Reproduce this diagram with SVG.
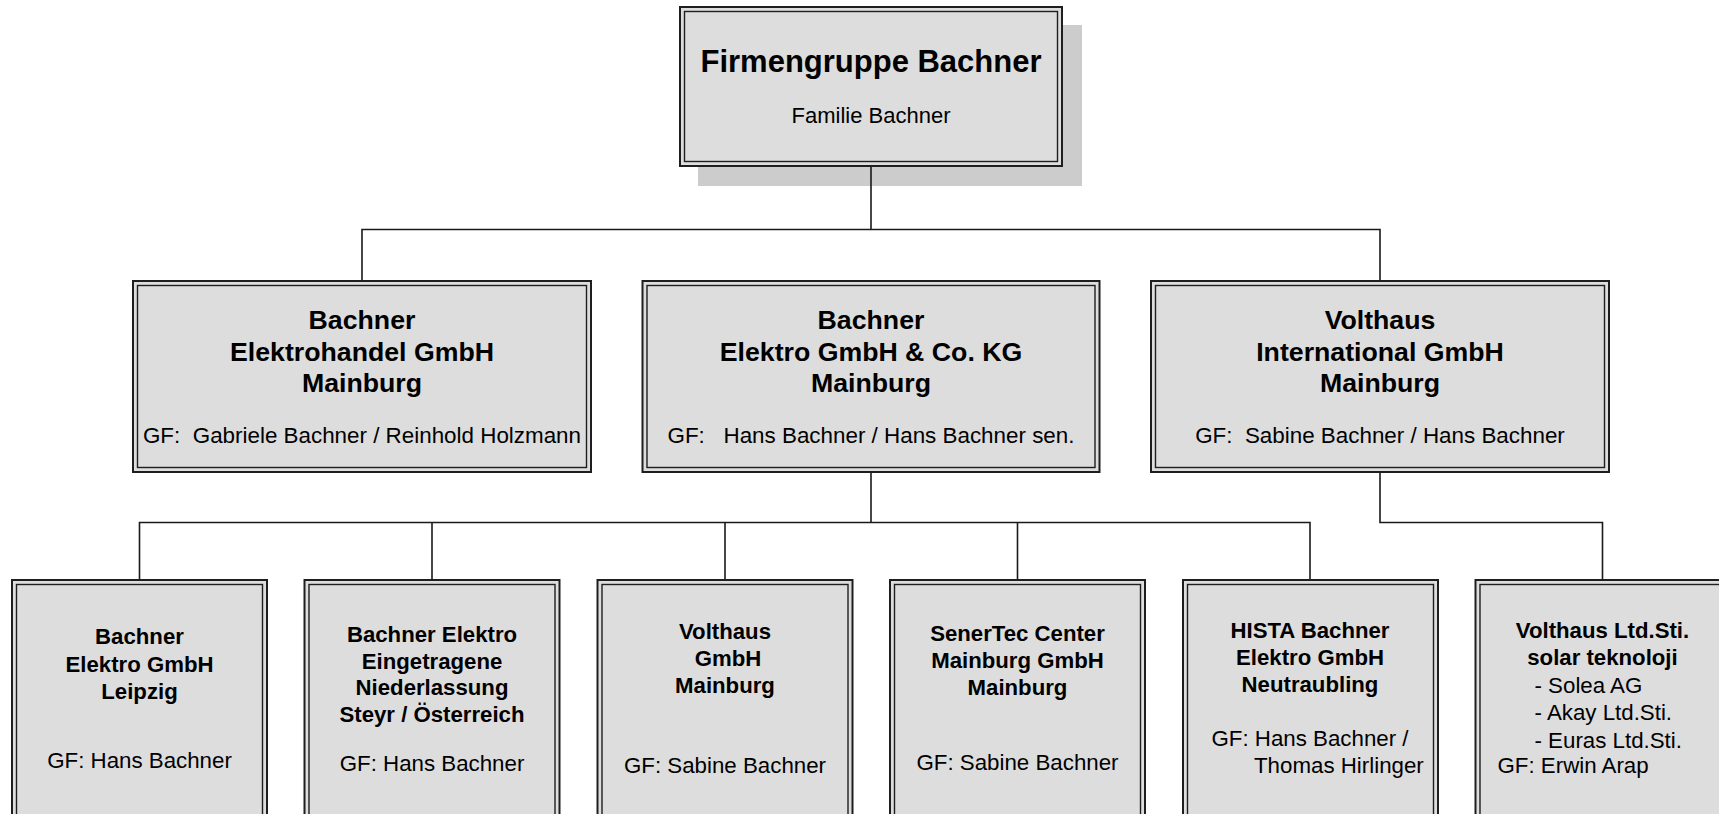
<svg xmlns="http://www.w3.org/2000/svg" width="1719" height="814" viewBox="0 0 1719 814">
<style>
.o{fill:#dddddd;stroke:#1e1e1e;stroke-width:2}
.i{fill:none;stroke:#1e1e1e;stroke-width:1.4}
.sh{fill:#cccccc}
text{font-family:"Liberation Sans",Arial,sans-serif;fill:#000}
.c{text-anchor:middle}
.t{font-weight:bold;font-size:31px}
.b2{font-weight:bold;font-size:26.7px}
.r2{font-size:22.4px}
.b3{font-weight:bold;font-size:22.2px}
.r3{font-size:22.3px}
.ln{fill:none;stroke:#1a1a1a;stroke-width:1.6}
</style>
<rect width="1719" height="814" fill="#ffffff"/>
<g id="n-top">
<rect class="sh" x="698" y="25" width="384" height="161"/>
<rect class="o" x="680" y="7" width="382" height="159"/>
<rect class="i" x="684.5" y="11.5" width="373" height="150"/>
<text class="c t" x="871" y="72">Firmengruppe Bachner</text>
<text class="c" x="871" y="123" font-size="22">Familie Bachner</text>
</g>
<g id="n-elektrohandel">
<rect class="o" x="133" y="281" width="458" height="191"/>
<rect class="i" x="137.5" y="285.5" width="449" height="182"/>
<text class="c b2" x="362" y="329">Bachner</text>
<text class="c b2" x="362" y="360.5">Elektrohandel GmbH</text>
<text class="c b2" x="362" y="392">Mainburg</text>
<text class="c r2" x="362" y="443">GF:&#160; Gabriele Bachner / Reinhold Holzmann</text>
</g>
<g id="n-elektro-kg">
<rect class="o" x="642.5" y="281" width="457" height="191"/>
<rect class="i" x="647" y="285.5" width="448" height="182"/>
<text class="c b2" x="871" y="329">Bachner</text>
<text class="c b2" x="871" y="360.5">Elektro GmbH &amp; Co. KG</text>
<text class="c b2" x="871" y="392">Mainburg</text>
<text class="c r2" x="871" y="443">GF:&#160;&#160; Hans Bachner / Hans Bachner sen.</text>
</g>
<g id="n-volthaus-intl">
<rect class="o" x="1151" y="281" width="458" height="191"/>
<rect class="i" x="1155.5" y="285.5" width="449" height="182"/>
<text class="c b2" x="1380" y="329">Volthaus</text>
<text class="c b2" x="1380" y="360.5">International GmbH</text>
<text class="c b2" x="1380" y="392">Mainburg</text>
<text class="c r2" x="1380" y="443">GF:&#160; Sabine Bachner / Hans Bachner</text>
</g>
<g id="n-leipzig">
<rect class="o" x="12" y="580" width="255" height="250"/>
<rect class="i" x="16.5" y="584.5" width="246" height="250"/>
<text class="c b3" x="139.5" y="644">Bachner</text>
<text class="c b3" x="139.5" y="671.5">Elektro GmbH</text>
<text class="c b3" x="139.5" y="698.5">Leipzig</text>
<text class="c r3" x="139.5" y="767.5">GF: Hans Bachner</text>
</g>
<g id="n-steyr">
<rect class="o" x="304.5" y="580" width="255" height="250"/>
<rect class="i" x="309" y="584.5" width="246" height="250"/>
<text class="c b3" x="432" y="641.5">Bachner Elektro</text>
<text class="c b3" x="432" y="668.5">Eingetragene</text>
<text class="c b3" x="432" y="695">Niederlassung</text>
<text class="c b3" x="432" y="721.5">Steyr / Österreich</text>
<text class="c r3" x="432" y="770.5">GF: Hans Bachner</text>
</g>
<g id="n-volthaus-gmbh">
<rect class="o" x="597.5" y="580" width="255" height="250"/>
<rect class="i" x="602" y="584.5" width="246" height="250"/>
<text class="c b3" x="725" y="638.5">Volthaus</text>
<text class="c b3" x="728" y="665.5">GmbH</text>
<text class="c b3" x="725" y="692.5">Mainburg</text>
<text class="c r3" x="725" y="773">GF: Sabine Bachner</text>
</g>
<g id="n-senertec">
<rect class="o" x="890" y="580" width="255" height="250"/>
<rect class="i" x="894.5" y="584.5" width="246" height="250"/>
<text class="c b3" x="1017.5" y="641">SenerTec Center</text>
<text class="c b3" x="1017.5" y="667.5">Mainburg GmbH</text>
<text class="c b3" x="1017.5" y="694.5">Mainburg</text>
<text class="c r3" x="1017.5" y="770">GF: Sabine Bachner</text>
</g>
<g id="n-hista">
<rect class="o" x="1183" y="580" width="255" height="250"/>
<rect class="i" x="1187.5" y="584.5" width="246" height="250"/>
<text class="c b3" x="1310" y="637.5">HISTA Bachner</text>
<text class="c b3" x="1310" y="665">Elektro GmbH</text>
<text class="c b3" x="1310" y="691.5">Neutraubling</text>
<text class="r3" x="1211.5" y="745.5">GF: Hans Bachner /</text>
<text class="r3" x="1254" y="772.5">Thomas Hirlinger</text>
</g>
<g id="n-volthaus-ltd">
<rect class="o" x="1475.5" y="580" width="255" height="250"/>
<rect class="i" x="1480" y="584.5" width="246" height="250"/>
<text class="c b3" x="1602.5" y="637.5">Volthaus Ltd.Sti.</text>
<text class="c b3" x="1602.5" y="665">solar teknoloji</text>
<text class="r3" x="1534.5" y="692.5">- Solea AG</text>
<text class="r3" x="1534.5" y="720">- Akay Ltd.Sti.</text>
<text class="r3" x="1534.5" y="747.5">- Euras Ltd.Sti.</text>
<text class="r3" x="1497.5" y="773">GF: Erwin Arap</text>
</g>
<g id="connectors" class="ln">
<path d="M871 167V229.5M362 280V229.5H1380V280"/>
<path d="M871 473V522.5M139.5 579V522.5H1310V579M432 522.5V579M725 522.5V579M1017.5 522.5V579"/>
<path d="M1380 473V522.5H1602.5V579"/>
</g>
</svg>
